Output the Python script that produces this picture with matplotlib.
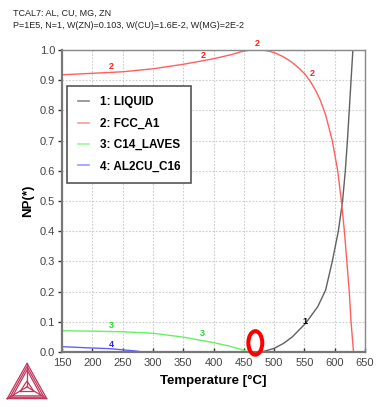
import matplotlib
matplotlib.use('Agg')
import matplotlib.pyplot as plt
from matplotlib.patches import Ellipse
from matplotlib.lines import Line2D

plt.rcParams['font.family'] = ['Liberation Sans', 'DejaVu Sans']

# datos
liq_t = [470, 483, 500, 516, 530, 552, 572, 585, 596, 606, 613, 617.5, 621, 624, 627, 630]
liq_np = [0.0, 0.002, 0.012, 0.029, 0.05, 0.095, 0.15, 0.205, 0.3, 0.4, 0.5, 0.6, 0.7, 0.8, 0.9, 1.0]

fcc_t = [150, 202, 251, 301, 351, 400, 430, 445, 455, 461, 481, 492, 503, 515, 527, 541, 551, 560,
         568, 576, 585, 596, 605, 611, 616, 620, 624, 627, 631]
fcc_np = [0.918, 0.923, 0.928, 0.938, 0.953, 0.971, 0.985, 0.994, 0.998, 1.0, 1.0, 0.996, 0.989,
          0.978, 0.963, 0.94, 0.92, 0.895, 0.868, 0.835, 0.785, 0.7, 0.6, 0.5, 0.4, 0.3, 0.2, 0.1, 0.0]

laves_t = [150, 200, 250, 301, 351, 400, 425, 445, 457]
laves_np = [0.0706, 0.069, 0.067, 0.062, 0.049, 0.031, 0.02, 0.009, 0.0]

al2cu_t = [150, 190, 229, 268, 284]
al2cu_np = [0.0177, 0.014, 0.011, 0.004, 0.0]

names = ['1: LIQUID', '2: FCC_A1', '3: C14_LAVES', '4: AL2CU_C16']
colors = ['#606060', '#ff5f5f', '#66f066', '#6060ff']
leg_colors = ['#8a8a8a', '#ff9a9a', '#9af59a', '#9a9aff']
tag_colors = ['black', '#ff2020', '#22e022', '#2020ff']

# etiquetas sobre las curvas (numero, T, NP)
tags = [('1', 551, 0.1), ('2', 232, 0.945), ('2', 383, 0.981), ('2', 472, 1.022),
        ('2', 563, 0.923), ('3', 232, 0.089), ('3', 382, 0.062), ('4', 231, 0.026)]

mark_t, mark_np = 469, 0.03

fig = plt.figure(figsize=(3.76, 4.08), dpi=100)
ax = fig.add_axes([62/376, 56/408, 303/376, 302/408])

ax.plot(liq_t, liq_np, color=colors[0], lw=1.0)
ax.plot(fcc_t, fcc_np, color=colors[1], lw=1.0)
ax.plot(laves_t, laves_np, color=colors[2], lw=1.0)
ax.plot(al2cu_t, al2cu_np, color=colors[3], lw=1.0)

for txt, t, v in tags:
    ax.text(t, v, txt, color=tag_colors[int(txt) - 1], fontsize=6.5, fontweight='bold',
            ha='center', va='center', clip_on=False)

ax.set_xlim(150, 650)
ax.set_ylim(0, 1.0)
ax.set_xticks(range(150, 651, 50))
ax.set_yticks([i / 10 for i in range(11)])
ax.set_yticklabels(['%.1f' % (i / 10) for i in range(11)])
ax.grid(True, color='#cccccc', linestyle=(0, (1.5, 1.5)), lw=0.8)
ax.tick_params(axis='x', direction='in', length=3, width=1, color='#333333',
               labelsize=8, labelcolor='#444444', pad=4)
ax.tick_params(axis='y', direction='out', length=3, width=1, color='#333333',
               labelsize=8, labelcolor='#444444', pad=2)
for s in ['left', 'bottom']:
    ax.spines[s].set_color('#777777')
    ax.spines[s].set_linewidth(1.6)
for s in ['top', 'right']:
    ax.spines[s].set_color('#888888')
    ax.spines[s].set_linewidth(1.0)

ax.set_xlabel('Temperature [°C]', fontsize=9.5, fontweight='bold', labelpad=5)
ax.set_ylabel('NP(*)', fontsize=9.5, fontweight='bold', labelpad=4)

handles = [Line2D([0], [0], color=c, lw=1.2) for c in leg_colors]
leg = ax.legend(handles, names, loc='upper left', bbox_to_anchor=(0.0165, 0.882),
                borderaxespad=0, fancybox=False, edgecolor='#555555', framealpha=1,
                prop={'size': 8.5, 'weight': 'bold'}, handlelength=1.0,
                handletextpad=0.9, labelspacing=0.8, borderpad=0.9)
leg.get_frame().set_linewidth(1.2)

ax.add_patch(Ellipse((mark_t, mark_np), 23, 0.078, fill=False, edgecolor='#ff0000',
                     lw=2.9, clip_on=False, zorder=5))

fig.text(13/376, 1 - 13/408, 'TCAL7: AL, CU, MG, ZN', fontsize=6.5, va='center', color='#222222')
fig.text(13/376, 1 - 26/408, 'P=1E5, N=1, W(ZN)=0.103, W(CU)=1.6E-2, W(MG)=2E-2',
         fontsize=6.5, va='center', color='#222222')

# logo
lg = fig.add_axes([4/376, 6/408, 46/376, 42/408])
lg.set_xlim(0, 1)
lg.set_ylim(0, 1)
lg.axis('off')
logo_c = '#c0365c'
for k in [0.0, 0.06, 0.12]:
    lg.plot([0.07 + k*1.0, 0.5, 0.93 - k*1.0, 0.07 + k*1.0],
            [0.08 + k*0.55, 0.92 - k*1.3, 0.08 + k*0.55, 0.08 + k*0.55], color=logo_c, lw=0.9)
cx, cy = 0.5, 0.36
for vx, vy in [(0.5, 0.92), (0.07, 0.08), (0.93, 0.08)]:
    lg.plot([cx, vx], [cy, vy], color=logo_c, lw=0.9)
lg.plot([0.35, 0.5, 0.65, 0.35], [0.25, 0.5, 0.25, 0.25], color=logo_c, lw=0.9)

fig.savefig('out.png', dpi=100)
